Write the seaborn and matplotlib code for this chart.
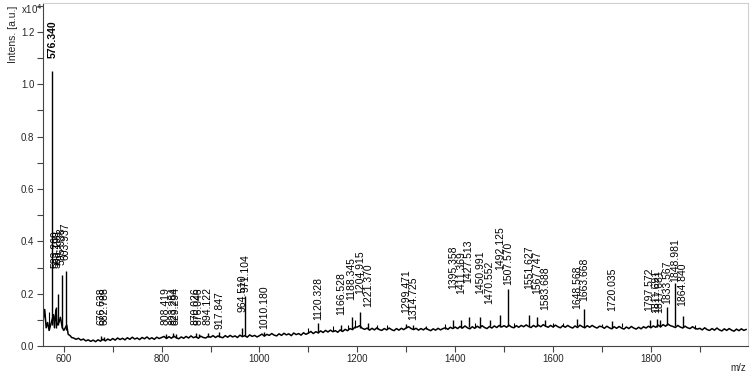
import numpy as np
import pandas as pd
import matplotlib
matplotlib.use("Agg")
import matplotlib.pyplot as plt
from matplotlib.ticker import MultipleLocator, FormatStrFormatter
import seaborn as sns

# ── spectrum data (intensity in units of 1e4 a.u.) ─────────
front_mz = [558, 561, 564, 567, 570, 573, 579, 581, 584, 586, 590, 593,
            597, 600, 606, 609, 613, 616]
front_int = [0.10, 0.14, 0.07, 0.09, 0.06, 0.08, 0.12, 0.07, 0.14, 0.08,
             0.09, 0.11, 0.07, 0.06, 0.08, 0.045, 0.04, 0.033]

grid_start, grid_step = 620, 5
grid_int = [
    # 620-695
    0.031, 0.026, 0.030, 0.023, 0.027, 0.020, 0.024, 0.018, 0.023, 0.017,
    0.024, 0.019, 0.026, 0.020, 0.027, 0.022,
    # 700-795
    0.029, 0.023, 0.031, 0.025, 0.030, 0.024, 0.032, 0.026, 0.034, 0.027,
    0.031, 0.025, 0.033, 0.028, 0.035, 0.027, 0.032, 0.026, 0.034, 0.029,
    # 800-895
    0.033, 0.037, 0.029, 0.036, 0.030, 0.038, 0.032, 0.028, 0.035, 0.030,
    0.037, 0.031, 0.039, 0.032, 0.036, 0.030, 0.038, 0.033, 0.031, 0.037,
    # 900-995
    0.034, 0.040, 0.033, 0.039, 0.035, 0.032, 0.040, 0.034, 0.041, 0.035,
    0.039, 0.033, 0.042, 0.036, 0.040, 0.034, 0.043, 0.037, 0.041, 0.035,
    # 1000-1095
    0.040, 0.046, 0.038, 0.045, 0.041, 0.048, 0.042, 0.039, 0.047, 0.041,
    0.049, 0.043, 0.047, 0.040, 0.050, 0.044, 0.048, 0.042, 0.051, 0.045,
    # 1100-1195
    0.050, 0.056, 0.048, 0.055, 0.051, 0.058, 0.052, 0.060, 0.054, 0.061,
    0.055, 0.059, 0.053, 0.062, 0.056, 0.064, 0.059, 0.067, 0.063, 0.072,
    # 1200-1295
    0.073, 0.078, 0.068, 0.064, 0.069, 0.061, 0.068, 0.062, 0.070, 0.063,
    0.060, 0.067, 0.062, 0.069, 0.063, 0.059, 0.067, 0.061, 0.068, 0.063,
    # 1300-1395
    0.070, 0.074, 0.067, 0.063, 0.068, 0.061, 0.067, 0.062, 0.069, 0.063,
    0.059, 0.066, 0.061, 0.068, 0.062, 0.067, 0.070, 0.064, 0.072, 0.067,
    # 1400-1495
    0.073, 0.067, 0.075, 0.069, 0.077, 0.070, 0.066, 0.074, 0.068, 0.076,
    0.070, 0.078, 0.071, 0.067, 0.075, 0.069, 0.077, 0.071, 0.079, 0.073,
    # 1500-1595
    0.078, 0.072, 0.080, 0.073, 0.070, 0.078, 0.072, 0.079, 0.074, 0.081,
    0.075, 0.071, 0.079, 0.073, 0.080, 0.074, 0.082, 0.076, 0.072, 0.079,
    # 1600-1695
    0.073, 0.080, 0.074, 0.070, 0.078, 0.072, 0.079, 0.073, 0.069, 0.077,
    0.071, 0.080, 0.074, 0.070, 0.078, 0.072, 0.079, 0.073, 0.069, 0.076,
    # 1700-1795
    0.074, 0.068, 0.076, 0.070, 0.066, 0.074, 0.068, 0.075, 0.069, 0.065,
    0.073, 0.067, 0.075, 0.069, 0.065, 0.072, 0.066, 0.074, 0.069, 0.076,
    # 1800-1895
    0.070, 0.077, 0.072, 0.080, 0.074, 0.082, 0.076, 0.084, 0.078, 0.075,
    0.071, 0.079, 0.073, 0.069, 0.076, 0.070, 0.067, 0.074, 0.068, 0.065,
    # 1900-1995
    0.068, 0.062, 0.070, 0.063, 0.060, 0.067, 0.061, 0.069, 0.062, 0.058,
    0.066, 0.060, 0.067, 0.061, 0.057, 0.065, 0.059, 0.066, 0.060, 0.064,
]

# labelled peaks
peak_labels = ["576.340", "583.260", "588.198", "595.938", "603.937",
               "676.638", "682.788", "808.419", "823.284", "829.294",
               "870.026", "876.046", "894.122", "917.847", "964.510",
               "971.104", "1010.180", "1120.328", "1166.528", "1188.345",
               "1204.915", "1221.370", "1299.471", "1314.725", "1395.358",
               "1411.369", "1427.513", "1450.991", "1470.552", "1492.125",
               "1507.570", "1551.627", "1567.747", "1583.688", "1648.568",
               "1663.668", "1720.035", "1797.572", "1811.691", "1817.681",
               "1833.567", "1848.981", "1864.840"]
peak_int = [1.05, 0.15, 0.20, 0.27, 0.285,
            0.038, 0.036, 0.048, 0.050, 0.045,
            0.050, 0.048, 0.050, 0.055, 0.070,
            0.19, 0.055, 0.090, 0.080, 0.110,
            0.130, 0.090, 0.085, 0.080, 0.100,
            0.100, 0.110, 0.110, 0.100, 0.120,
            0.220, 0.120, 0.110, 0.100, 0.105,
            0.140, 0.095, 0.100, 0.105, 0.100,
            0.150, 0.240, 0.115]
peak_base = [0.08, 0.07, 0.08, 0.07, 0.06,
             0.025, 0.025, 0.030, 0.033, 0.032,
             0.035, 0.034, 0.036, 0.036, 0.040,
             0.040, 0.041, 0.052, 0.057, 0.066,
             0.070, 0.064, 0.068, 0.066, 0.070,
             0.069, 0.074, 0.071, 0.076, 0.074,
             0.076, 0.077, 0.075, 0.076, 0.076,
             0.074, 0.071, 0.074, 0.072, 0.074,
             0.079, 0.078, 0.072]
# where each label text starts (bottom of rotated text)
label_y = [1.10, 0.30, 0.30, 0.31, 0.33,
           0.08, 0.08, 0.08, 0.08, 0.08,
           0.08, 0.08, 0.08, 0.065, 0.13,
           0.205, 0.065, 0.10, 0.12, 0.175,
           0.20, 0.15, 0.125, 0.10, 0.22,
           0.20, 0.24, 0.20, 0.16, 0.29,
           0.235, 0.22, 0.20, 0.137, 0.142,
           0.173, 0.135, 0.135, 0.125, 0.125,
           0.16, 0.245, 0.154]

# small unlabelled peaks
minor_mz = [569.5, 1100, 1150, 1180, 1196, 1240, 1260, 1340, 1380, 1440,
            1520, 1600, 1620, 1700, 1740, 1890]
minor_int = [0.13, 0.07, 0.075, 0.08, 0.10, 0.08, 0.08, 0.075, 0.085, 0.09,
             0.09, 0.09, 0.09, 0.085, 0.09, 0.08]
minor_base = [0.06, 0.052, 0.058, 0.066, 0.07, 0.067, 0.066, 0.066, 0.067, 0.074,
              0.073, 0.074, 0.075, 0.075, 0.074, 0.067]

grid_mz = grid_start + grid_step * np.arange(len(grid_int))
trace = pd.DataFrame({"mz": np.concatenate([front_mz, grid_mz]),
                      "intensity": np.concatenate([front_int, grid_int])})
peak_mz = [float(p) for p in peak_labels]

# ── figure ──────────────────────────────────────────────────
sns.set_style("white")
plt.rcParams["font.family"] = ["Liberation Sans", "DejaVu Sans"]

fig = plt.figure(figsize=(7.5, 3.75), dpi=100)
ax = fig.add_axes([0.057, 0.077, 0.94, 0.915])

sns.lineplot(data=trace, x="mz", y="intensity", ax=ax, color="black",
             linewidth=1.1, sort=True, estimator=None)
ax.vlines(peak_mz, peak_base, peak_int, color="black", linewidth=1.0)
ax.vlines(minor_mz, minor_base, minor_int, color="black", linewidth=0.8)

for lab, x, y in zip(peak_labels, peak_mz, label_y):
    ax.text(x, y, lab, rotation=90, ha="center", va="bottom",
            fontsize=7.5, color="black",
            fontweight="bold" if lab == "576.340" else "normal")

ax.set_xlim(557, 1998)
ax.set_ylim(0, 1.31)
ax.xaxis.set_major_locator(MultipleLocator(200))
ax.xaxis.set_minor_locator(MultipleLocator(100))
ax.yaxis.set_major_locator(MultipleLocator(0.2))
ax.yaxis.set_minor_locator(MultipleLocator(0.1))
ax.yaxis.set_major_formatter(FormatStrFormatter("%.1f"))
ax.tick_params(which="both", direction="out", length=4, width=0.8,
               color="#444444", labelsize=7, pad=2)
ax.tick_params(which="both", bottom=True, left=True)
ax.set_xlabel("")
ax.set_ylabel("")
for side in ["left", "bottom"]:
    ax.spines[side].set_color("#444444")
    ax.spines[side].set_linewidth(0.8)
for side in ["top", "right"]:
    ax.spines[side].set_color("#d0d0d0")
    ax.spines[side].set_linewidth(0.8)

fig.text(0.010, 0.985, "Intens. [a.u.]", rotation=90, ha="left", va="top",
         fontsize=7.5)
fig.text(0.028, 0.995, r"x10$^4$", ha="left", va="top", fontsize=7)
fig.text(0.995, 0.005, "m/z", ha="right", va="bottom", fontsize=7)

fig.savefig("out.png", dpi=100)
